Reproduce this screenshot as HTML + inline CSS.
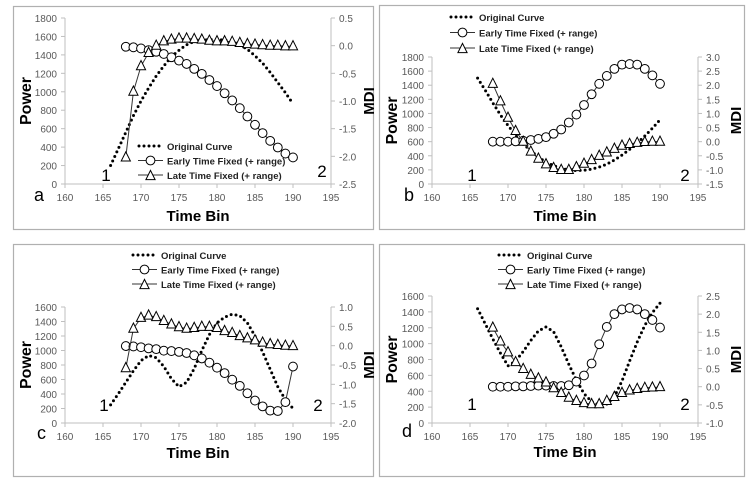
<!DOCTYPE html>
<html><head><meta charset="utf-8"><style>
html,body{margin:0;padding:0;background:#fff;}
svg{display:block;font-family:"Liberation Sans",sans-serif;}
.tk{font-size:10px;fill:#595959;}
.ttl{font-size:14px;font-weight:bold;fill:#000;}
.lg{font-size:9.5px;font-weight:bold;fill:#222;}
</style></head><body>
<svg id="chart" width="756" height="479" viewBox="0 0 756 479" xmlns="http://www.w3.org/2000/svg"></svg>
<script>
const xTicks = [160,165,170,175,180,185,190,195];
const origX = [166,167,168,169,170,171,172,173,174,175,176,177,178,179,180,181,182,183,184,185,186,187,188,189,190];
const mkX = [168,169,170,171,172,173,174,175,176,177,178,179,180,181,182,183,184,185,186,187,188,189,190];

const aOrig = [200,380,560,740,900,1040,1170,1280,1380,1450,1510,1545,1560,1565,1565,1560,1540,1510,1460,1390,1310,1210,1100,990,870];
const aEarly = [-0.02,-0.03,-0.05,-0.08,-0.11,-0.15,-0.21,-0.27,-0.33,-0.42,-0.51,-0.62,-0.73,-0.86,-0.99,-1.13,-1.28,-1.43,-1.58,-1.72,-1.84,-1.95,-2.02];
const aLate = [-2.02,-0.83,-0.37,-0.13,0.0,0.08,0.11,0.13,0.13,0.12,0.11,0.09,0.08,0.08,0.07,0.05,0.03,0.02,0.01,0.0,0.0,-0.01,-0.01];
const aLeftTicks = [0,200,400,600,800,1000,1200,1400,1600,1800];
const aRightTicks = ["-2.5","-2.0","-1.5","-1.0","-0.5","0.0","0.5"];

const bOrig = [1500,1330,1150,980,830,690,570,470,380,310,260,220,200,190,195,210,240,280,340,410,490,580,680,790,910];
const bEarly = [0,0,0,0.01,0.03,0.06,0.1,0.16,0.28,0.43,0.68,0.96,1.3,1.68,2.05,2.33,2.58,2.73,2.75,2.73,2.58,2.35,2.05];
const bLate = [2.05,1.43,0.85,0.38,0,-0.35,-0.6,-0.8,-0.93,-1.0,-1.0,-0.9,-0.78,-0.65,-0.5,-0.38,-0.25,-0.14,-0.08,-0.04,-0.01,0,0];
const bLeftTicks = [0,200,400,600,800,1000,1200,1400,1600,1800];
const bRightTicks = ["-1.5","-1.0","-0.5","0.0","0.5","1.0","1.5","2.0","2.5","3.0"];

const cOrig = [250,400,560,720,860,930,900,780,610,500,560,750,1000,1220,1380,1460,1500,1480,1380,1200,980,740,500,320,200];
const cEarly = [-0.01,-0.02,-0.04,-0.07,-0.09,-0.13,-0.14,-0.16,-0.19,-0.25,-0.33,-0.44,-0.57,-0.71,-0.88,-1.04,-1.23,-1.42,-1.57,-1.68,-1.69,-1.46,-0.54];
const cLate = [-0.58,0.44,0.72,0.78,0.74,0.64,0.55,0.48,0.44,0.46,0.49,0.49,0.46,0.38,0.33,0.25,0.19,0.14,0.08,0.04,0.02,0.0,-0.01];
const cLeftTicks = [0,200,400,600,800,1000,1200,1400,1600];
const cRightTicks = ["-2.0","-1.5","-1.0","-0.5","0.0","0.5","1.0"];

const dOrig = [1440,1250,1060,880,720,780,900,1040,1160,1210,1150,960,740,540,370,270,230,240,330,530,780,1020,1230,1390,1510];
const dEarly = [0,0,0,0.01,0.01,0.02,0.03,0.03,0.02,0.02,0.04,0.14,0.31,0.64,1.17,1.65,2.0,2.13,2.17,2.13,2.0,1.84,1.63];
const dLate = [1.63,1.25,0.95,0.68,0.49,0.33,0.23,0.12,-0.04,-0.17,-0.3,-0.39,-0.45,-0.48,-0.48,-0.39,-0.28,-0.17,-0.1,-0.06,-0.03,-0.02,-0.01];
const dLeftTicks = [0,200,400,600,800,1000,1200,1400,1600];
const dRightTicks = ["-1.0","-0.5","0.0","0.5","1.0","1.5","2.0","2.5"];

const NS = "http://www.w3.org/2000/svg";
const svg = document.getElementById('chart');
function mk(tag, attrs, parent, text){
  const e = document.createElementNS(NS, tag);
  for (const k in attrs) e.setAttribute(k, attrs[k]);
  if (text !== undefined) e.textContent = text;
  parent.appendChild(e); return e;
}

const panels = [
  {id:'a', box:[13,6,360,223], x0:65, x1:331, yT:18, yB:184, pMax:1800, rMin:-2.5, rMax:0.5,
   orig:aOrig, early:aEarly, late:aLate, lt:aLeftTicks, rt:aRightTicks,
   leg:[138,146,14.5], one:[106,181], two:[322,177], letter:[34,201], xt:216},
  {id:'b', box:[379,5,365,224], x0:432, x1:698, yT:57, yB:184, pMax:1800, rMin:-1.5, rMax:3.0,
   orig:bOrig, early:bEarly, late:bLate, lt:bLeftTicks, rt:bRightTicks,
   leg:[450,17,15.5], one:[472,181], two:[685,181], letter:[404,201], xt:216},
  {id:'c', box:[13,244,360,232], x0:65, x1:331, yT:307, yB:423, pMax:1600, rMin:-2.0, rMax:1.0,
   orig:cOrig, early:cEarly, late:cLate, lt:cLeftTicks, rt:cRightTicks,
   leg:[132,255,14.5], one:[104,411], two:[318,411], letter:[37,439], xt:453},
  {id:'d', box:[379,244,365,232], x0:432, x1:698, yT:296, yB:423, pMax:1600, rMin:-1.0, rMax:2.5,
   orig:dOrig, early:dEarly, late:dLate, lt:dLeftTicks, rt:dRightTicks,
   leg:[498,255,14.5], one:[472,410], two:[685,410], letter:[402,437], xt:452}
];

function tri(g, x, y, name){
  const s=4.6;
  const t = mk('polygon',{points:`${x},${y-s-1} ${x-s},${y+s-1} ${x+s},${y+s-1}`, fill:'#fff', stroke:'#000','stroke-width':1}, g);
  
  
}
function circ(g, x, y, name){
  const c = mk('circle',{cx:x, cy:y, r:4.4, fill:'#fff', stroke:'#000','stroke-width':1}, g);
  
  
}

panels.forEach(p=>{
  const g = mk('g',{}, svg);
  
  
  const [bx,by,bw,bh] = p.box;
  const fr = mk('rect',{x:bx+0.5,y:by+0.5,width:bw,height:bh,fill:'#fff',stroke:'#b0b0b0','stroke-width':1.2}, g);
  
  
  const X = v => p.x0 + (v-160)/(195-160)*(p.x1-p.x0);
  const YL = v => p.yB - v/p.pMax*(p.yB-p.yT);
  const YR = v => p.yB - (v-p.rMin)/(p.rMax-p.rMin)*(p.yB-p.yT);

  const ax = mk('g',{}, g);
  
  
  mk('line',{x1:p.x0,y1:p.yB,x2:p.x1,y2:p.yB,stroke:'#bfbfbf'}, ax);
  mk('line',{x1:p.x0,y1:p.yT,x2:p.x0,y2:p.yB,stroke:'#bfbfbf'}, ax);
  mk('line',{x1:p.x1,y1:p.yT,x2:p.x1,y2:p.yB,stroke:'#bfbfbf'}, ax);
  xTicks.forEach(t=>{
    mk('line',{x1:X(t),y1:p.yB,x2:X(t),y2:p.yB+4,stroke:'#bfbfbf'}, ax);
    const tl = mk('text',{x:X(t),y:p.yB+17,'text-anchor':'middle',class:'tk'}, ax, String(t));
    
    
  });
  p.lt.forEach(t=>{
    mk('line',{x1:p.x0-4,y1:YL(t),x2:p.x0,y2:YL(t),stroke:'#bfbfbf'}, ax);
    const tl = mk('text',{x:p.x0-8,y:YL(t)+4,'text-anchor':'end',class:'tk'}, ax, String(t));
    
    
  });
  p.rt.forEach(t=>{
    const v = parseFloat(t);
    mk('line',{x1:p.x1,y1:YR(v),x2:p.x1+4,y2:YR(v),stroke:'#bfbfbf'}, ax);
    const tl = mk('text',{x:p.x1+8,y:YR(v)+4,'text-anchor':'start',class:'tk'}, ax, t);
    
    
  });
  const my = (p.yT+p.yB)/2;
  const yt = mk('text',{x:0,y:0,transform:`translate(${bx+18},${my}) rotate(-90)`,'text-anchor':'middle',class:'ttl',style:'font-size:16px'}, g, 'Power');
  
  
  const rt = mk('text',{x:0,y:0,transform:`translate(${p.x1+43},${my}) rotate(-90)`,'text-anchor':'middle',class:'ttl',style:'font-size:15px'}, g, 'MDI');
  
  
  const xt = mk('text',{x:(p.x0+p.x1)/2,y:p.xt+5,'text-anchor':'middle',class:'ttl',style:'font-size:15px'}, g, 'Time Bin');
  
  
  const lt = mk('text',{x:p.letter[0],y:p.letter[1],style:'font-size:18px'}, g, p.id);
  
  
  const o1 = mk('text',{x:p.one[0],y:p.one[1],'text-anchor':'middle',style:'font-size:17px'}, g, '1');
  
  
  const o2 = mk('text',{x:p.two[0],y:p.two[1],'text-anchor':'middle',style:'font-size:17px'}, g, '2');
  
  

  const so = mk('polyline',{points:origX.map((x,i)=>X(x)+','+YL(p.orig[i])).join(' '),fill:'none',stroke:'#000','stroke-width':3,'stroke-linecap':'round','stroke-dasharray':'0 5'}, g);
  
  
  const ge = mk('g',{}, g);
  
  
  mk('polyline',{points:mkX.map((x,i)=>X(x)+','+YR(p.early[i])).join(' '),fill:'none',stroke:'#333','stroke-width':1}, ge);
  mkX.forEach((x,i)=>circ(ge, X(x), YR(p.early[i]), 'early-point'));
  const gl = mk('g',{}, g);
  
  
  mk('polyline',{points:mkX.map((x,i)=>X(x)+','+YR(p.late[i])).join(' '),fill:'none',stroke:'#333','stroke-width':1}, gl);
  mkX.forEach((x,i)=>tri(gl, X(x), YR(p.late[i]), 'late-point'));

  const [lx,ly,ls] = p.leg;
  const lg = mk('g',{}, g);
  
  
  mk('line',{x1:lx+1,y1:ly,x2:lx+24,y2:ly,stroke:'#000','stroke-width':3,'stroke-linecap':'round','stroke-dasharray':'0 5'}, lg);
  mk('text',{x:lx+29,y:ly+4,class:'lg'}, lg, 'Original Curve');
  mk('line',{x1:lx,y1:ly+ls,x2:lx+25,y2:ly+ls,stroke:'#333'}, lg);
  circ(lg, lx+12.5, ly+ls, 'legend-circle');
  mk('text',{x:lx+29,y:ly+ls+4,class:'lg'}, lg, 'Early Time Fixed (+ range)');
  mk('line',{x1:lx,y1:ly+2*ls,x2:lx+25,y2:ly+2*ls,stroke:'#333'}, lg);
  tri(lg, lx+12.5, ly+2*ls+1, 'legend-triangle');
  mk('text',{x:lx+29,y:ly+2*ls+4,class:'lg'}, lg, 'Late Time Fixed (+ range)');
});
</script>
</body></html>
